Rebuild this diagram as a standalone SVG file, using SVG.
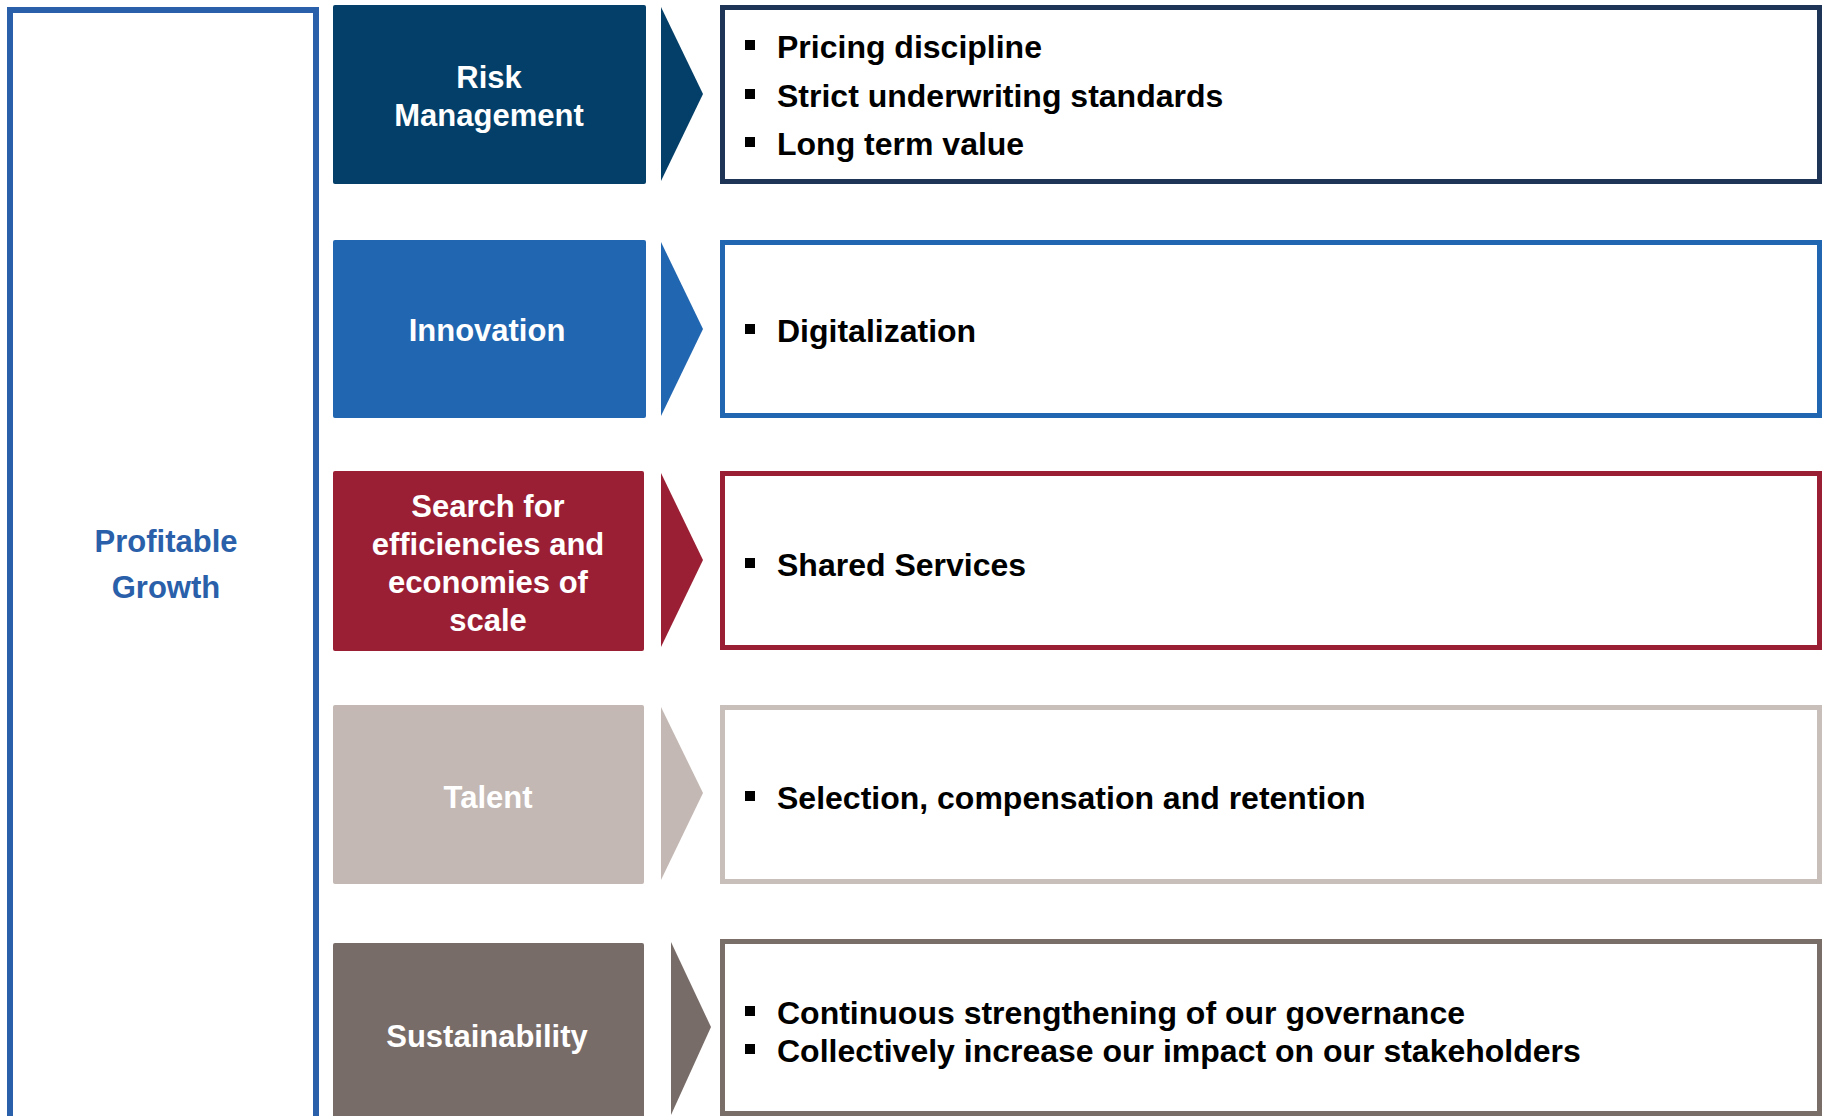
<svg xmlns="http://www.w3.org/2000/svg" width="1825" height="1116" viewBox="0 0 1825 1116">
<style>
.lbl{font-family:"Liberation Sans",Arial,sans-serif;font-weight:bold;font-size:31px;fill:#ffffff;text-anchor:middle}
.itm{font-family:"Liberation Sans",Arial,sans-serif;font-weight:bold;font-size:32px;fill:#000000}
.pg{font-family:"Liberation Sans",Arial,sans-serif;font-weight:bold;font-size:31px;fill:#2a60aa;text-anchor:middle}
.det{fill:#ffffff;stroke-width:5}
.bul{fill:#000000}
</style>
<rect width="1825" height="1116" fill="#ffffff"/>
<g id="profitable-growth">
<rect x="10" y="10" width="306" height="1110" fill="#ffffff" stroke="#2a60aa" stroke-width="6"/>
<text class="pg" x="166" y="552">Profitable</text>
<text class="pg" x="166" y="598">Growth</text>
</g>
<g id="risk-management">
<rect x="333" y="5" width="313" height="179" rx="2" fill="#033f68"/>
<text class="lbl" x="489" y="88">Risk</text>
<text class="lbl" x="489" y="126">Management</text>
</g>
<g id="innovation">
<rect x="333" y="240" width="313" height="178" rx="2" fill="#2166b1"/>
<text class="lbl" x="487" y="341">Innovation</text>
</g>
<g id="efficiencies">
<rect x="333" y="471" width="311" height="180" rx="2" fill="#9a1f34"/>
<text class="lbl" x="488" y="517">Search for</text>
<text class="lbl" x="488" y="555">efficiencies and</text>
<text class="lbl" x="488" y="593">economies of</text>
<text class="lbl" x="488" y="631">scale</text>
</g>
<g id="talent">
<rect x="333" y="705" width="311" height="179" rx="2" fill="#c3b8b3"/>
<text class="lbl" x="488" y="808">Talent</text>
</g>
<g id="sustainability">
<rect x="333" y="943" width="311" height="180" rx="2" fill="#786c68"/>
<text class="lbl" x="487" y="1047">Sustainability</text>
</g>
<g id="connectors">
<polygon points="661,7 703,94 661,181" fill="#033f68"/>
<polygon points="661,242 703,329 661,416" fill="#2166b1"/>
<polygon points="661,473 703,560 661,647" fill="#9a1f34"/>
<polygon points="661,707 703,793 661,880" fill="#c3b8b3"/>
<polygon points="671,942 711,1027 671,1115" fill="#786c68"/>
</g>
<g id="risk-details">
<rect class="det" x="722.5" y="7.5" width="1097" height="174" stroke="#1e3557"/>
<rect class="bul" x="745" y="40" width="10" height="10"/>
<text class="itm" x="777" y="58">Pricing discipline</text>
<rect class="bul" x="745" y="89" width="10" height="10"/>
<text class="itm" x="777" y="107">Strict underwriting standards</text>
<rect class="bul" x="745" y="137" width="10" height="10"/>
<text class="itm" x="777" y="155">Long term value</text>
</g>
<g id="innovation-details">
<rect class="det" x="722.5" y="242.5" width="1097" height="173" stroke="#2166b1"/>
<rect class="bul" x="745" y="324" width="10" height="10"/>
<text class="itm" x="777" y="342">Digitalization</text>
</g>
<g id="efficiencies-details">
<rect class="det" x="722.5" y="473.5" width="1097" height="174" stroke="#9a1f34"/>
<rect class="bul" x="745" y="558" width="10" height="10"/>
<text class="itm" x="777" y="576">Shared Services</text>
</g>
<g id="talent-details">
<rect class="det" x="722.5" y="707.5" width="1097" height="174" stroke="#c9bfba"/>
<rect class="bul" x="745" y="791" width="10" height="10"/>
<text class="itm" x="777" y="809">Selection, compensation and retention</text>
</g>
<g id="sustainability-details">
<rect class="det" x="722.5" y="941.5" width="1097" height="172" stroke="#7a6e69"/>
<rect class="bul" x="745" y="1006" width="10" height="10"/>
<text class="itm" x="777" y="1024">Continuous strengthening of our governance</text>
<rect class="bul" x="745" y="1044" width="10" height="10"/>
<text class="itm" x="777" y="1062">Collectively increase our impact on our stakeholders</text>
</g>
</svg>
